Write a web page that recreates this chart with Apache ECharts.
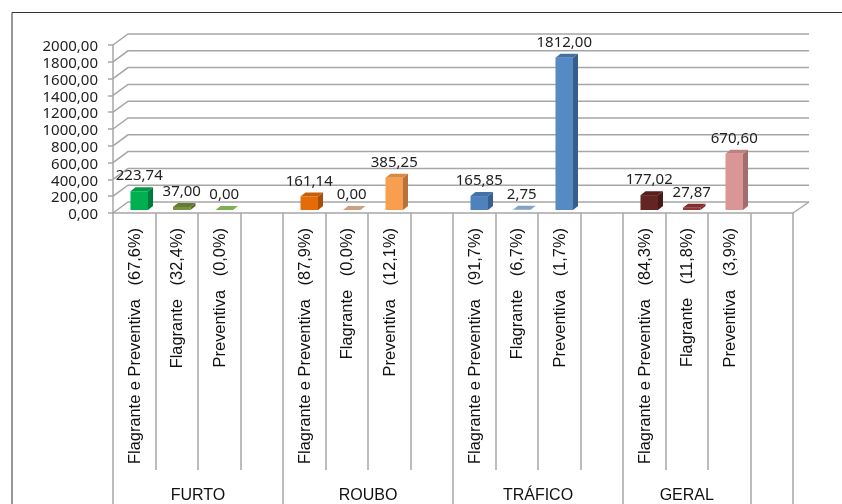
<!DOCTYPE html>
<html><head><meta charset="utf-8">
<style>html,body{margin:0;padding:0;background:#fff}#c{width:842px;height:504px}</style>
<script src="https://cdn.jsdelivr.net/npm/echarts@6/dist/echarts.min.js"></script>
</head><body><div id="c"></div>
<script>
const categories = [
 'Flagrante e Preventiva   (67,6%)','Flagrante   (32,4%)','Preventiva   (0,0%)','',
 'Flagrante e Preventiva   (87,9%)','Flagrante   (0,0%)','Preventiva   (12,1%)','',
 'Flagrante e Preventiva   (91,7%)','Flagrante   (6,7%)','Preventiva   (1,7%)','',
 'Flagrante e Preventiva   (84,3%)','Flagrante   (11,8%)','Preventiva   (3,9%)',''];
const values = [223.74,37.00,0.00,null, 161.14,0.00,385.25,null, 165.85,2.75,1812.00,null, 177.02,27.87,670.60,null];
const frontColors = ['#00B050','#76923C','#76A84A',null,'#E36C09','#D8A080','#F79F4E',null,'#4F81BD','#95B3D7','#558AC5',null,'#632423','#953735','#D99694',null];
const topColors   = ['#009A46','#637B33','#7CB050',null,'#C65F08','#CFA080','#D98A42',null,'#4472A8','#84A2C8','#44719F',null,'#561F1E','#822F2D','#BD8280',null];
const sideColors  = ['#007A3D','#56692B','#76A84A',null,'#A64F06','#CFA080','#B4733A',null,'#37608F','#84A2C8','#375E8A',null,'#471A19','#6E2827','#A06E6C',null];
const groupNames = ['FURTO','ROUBO','TRÁFICO','GERAL'];
const groupCenters = [2,6,10,13.5];
const groupEdges = [0,4,8,12,15,16];
const yTicks = [0,200,400,600,800,1000,1200,1400,1600,1800,2000];

const fmt = v => v.toFixed(2).replace('.',',');
const DX = 15, DY = 11;
const GRID = '#A6A6A6';

const chart = echarts.init(document.getElementById('c'), null, {renderer:'canvas'});
chart.setOption({
  animation:false,
  backgroundColor:'#fff',
  graphic:[{type:'polyline',z:0,shape:{points:[[12,504],[12,12.5],[842,12.5]]},style:{stroke:'#333',lineWidth:1,fill:null}}],
  grid:{left:113,right:49,top:45,bottom:291,containLabel:false},
  xAxis:[{
    type:'category',data:categories,position:'bottom',boundaryGap:true,
    axisLine:{show:true,lineStyle:{color:GRID,width:1.5}},
    axisTick:{show:true,alignWithLabel:false,interval:0,length:257,lineStyle:{color:GRID,width:1.5}},
    axisLabel:{show:true,interval:0,rotate:90,margin:15,verticalAlign:'top',lineHeight:2,color:'#111',fontFamily:'Liberation Sans',fontSize:16.4,hideOverlap:false}
  },{
    type:'value',min:0,max:16,position:'bottom',
    axisLine:{show:false},splitLine:{show:false},
    axisTick:{show:true,customValues:groupEdges,length:291,lineStyle:{color:GRID,width:1.5}},
    axisLabel:{show:true,customValues:groupCenters,margin:275,color:'#111',fontFamily:'Liberation Sans',fontSize:16,
      formatter:v=>groupNames[groupCenters.indexOf(v)]}
  }],
  yAxis:{type:'value',min:0,max:2000,interval:200,
    axisLine:{show:true,lineStyle:{color:GRID,width:1.5}},
    axisTick:{show:true,length:5,lineStyle:{color:GRID,width:1.5}},
    splitLine:{show:false},
    axisLabel:{margin:15,verticalAlign:'top',lineHeight:4,color:'#222',fontFamily:'Noto Sans',fontSize:15,formatter:fmt}
  },
  series:[{
    type:'custom',z:1,xAxisIndex:0,yAxisIndex:0,silent:true,
    data:yTicks.map(v=>[0,v]),
    renderItem(p,api){
      const c=api.coord([0,api.value(1)]), w=api.size([1,0])[0];
      const L=c[0]-w/2, R=L+w*16, y=c[1];
      const ch=[{type:'polyline',shape:{points:[[L,y],[L+DX,y-DY],[R+DX+1,y-DY]]},
        style:{stroke:GRID,lineWidth:1.5,fill:null}}];
      if(api.value(1)===0) ch.push({type:'line',shape:{x1:R,y1:y,x2:R+DX+1,y2:y-DY},style:{stroke:GRID,lineWidth:1.5}});
      return {type:'group',children:ch};
    }
  },{
    type:'custom',z:3,xAxisIndex:0,yAxisIndex:0,silent:true,
    data:values.map((v,i)=>v===null?null:[i,v]).filter(Boolean),
    renderItem(p,api){
      const i=api.value(0), v=api.value(1);
      const top=api.coord([i,v]), base=api.coord([i,0]);
      const bw=17.5, ox=5, oy=-3, dx=5, dy=4;
      const x0=top[0]+ox-bw/2, x1=x0+bw, yT=top[1]+oy, yB=base[1]+oy;
      return {type:'group',children:[
        {type:'polygon',shape:{points:[[x1,yT],[x1+dx,yT-dy],[x1+dx,yB-dy],[x1,yB]]},style:{fill:sideColors[i]}},
        {type:'polygon',shape:{points:[[x0,yT],[x0+dx,yT-dy],[x1+dx,yT-dy],[x1,yT]]},style:{fill:topColors[i]}},
        {type:'rect',shape:{x:x0,y:yT,width:bw,height:yB-yT},style:{fill:frontColors[i]}},
        {type:'text',style:{x:x0+bw/2,y:yT-dy-11,text:fmt(v),align:'center',verticalAlign:'middle',
          fill:'#222',font:'15px "Noto Sans"'}}
      ]};
    }
  }]
});
</script></body></html>
